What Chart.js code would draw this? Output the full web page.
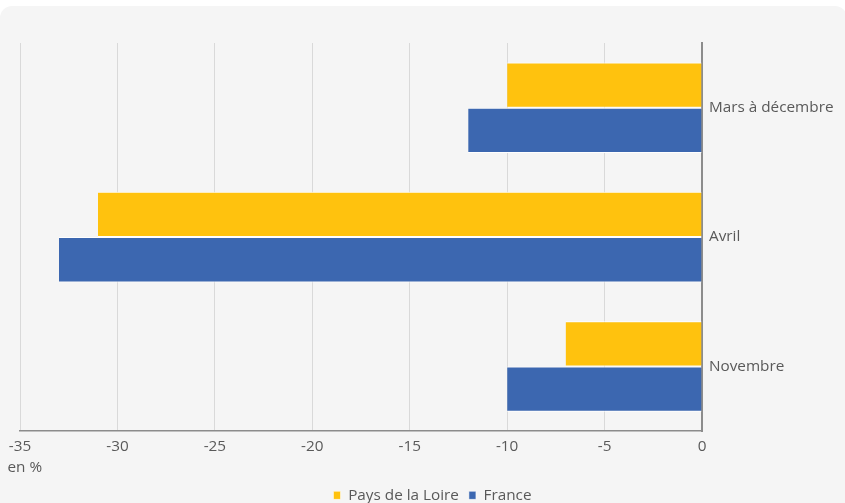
<!DOCTYPE html>
<html>
<head>
<meta charset="utf-8">
<script src="https://cdn.jsdelivr.net/npm/chart.js@4.4.1/dist/chart.umd.min.js"></script>
<style>
  html, body { margin: 0; padding: 0; background: #fff; overflow: hidden; }
  .card {
    position: absolute; left: 0; top: 6px; width: 847px; height: 520px;
    background: #f5f5f5; border-radius: 12px;
  }
  #wrap { position: absolute; left: 0; top: 0; width: 845px; height: 513px; }
</style>
</head>
<body>
<div class="card"></div>
<div id="wrap"><canvas id="chart"></canvas></div>
<script>
// Data (change in %)
const periods = ['Mars à décembre', 'Avril', 'Novembre'];
const paysDeLaLoire = [-10, -31, -7];
const france = [-12, -33, -10];
const xTicks = [-35, -30, -25, -20, -15, -10, -5, 0];

const textColor = '#595959';
const font = { family: '"Open Sans", sans-serif', size: 15.3 };

// "en %" under the first tick label
const unitLabel = {
    id: 'unitLabel',
    afterDraw(chart) {
        const x = chart.scales.x;
        const ctx = chart.ctx;
        ctx.save();
        ctx.font = '15.3px "Open Sans", sans-serif';
        ctx.fillStyle = textColor;
        ctx.textAlign = 'left';
        ctx.textBaseline = 'middle';
        ctx.fillText('en %', x.left - 12.5, 468);
        ctx.restore();
    }
};

const ctx = document.getElementById('chart').getContext('2d');
new Chart(ctx, {
    type: 'bar',
    data: {
        labels: periods,
        datasets: [{
            label: 'Pays de la Loire',
            data: paysDeLaLoire,
            backgroundColor: '#ffc20e',
            borderColor: '#ffffff',
            borderWidth: { top: 1, bottom: 1, left: 0, right: 0 },
            borderSkipped: false,
            barPercentage: 1,
            categoryPercentage: 0.7
        }, {
            label: 'France',
            data: france,
            backgroundColor: '#3c67b0',
            borderColor: '#ffffff',
            borderWidth: { top: 1, bottom: 1, left: 0, right: 0 },
            borderSkipped: false,
            barPercentage: 1,
            categoryPercentage: 0.7
        }]
    },
    options: {
        indexAxis: 'y',
        responsive: true,
        maintainAspectRatio: false,
        animation: false,
        layout: { padding: { top: 43, left: 20, right: 0, bottom: 0 } },
        plugins: {
            legend: {
                position: 'bottom',
                labels: {
                    color: textColor,
                    font: font,
                    boxWidth: 7,
                    boxHeight: 8,
                    padding: 10
                }
            },
            tooltip: { enabled: false }
        },
        scales: {
            x: {
                min: -35,
                max: 0,
                afterBuildTicks(scale) {
                    scale.ticks = xTicks.map(v => ({ value: v }));
                },
                afterFit(scale) {
                    scale.height = 46.5;
                    scale.paddingLeft = 0;
                    scale.paddingRight = 0;
                },
                grid: { color: '#d9d9d9', drawTicks: false },
                border: { display: true, color: '#8c8c8c', width: 1.5 },
                ticks: { color: textColor, font: font, padding: 6, maxRotation: 0 }
            },
            y: {
                position: 'right',
                afterFit(scale) { scale.width = 143; },
                grid: { display: false, drawTicks: false },
                border: { display: true, color: '#8c8c8c', width: 2 },
                ticks: { color: textColor, font: font, padding: 7 }
            }
        }
    },
    plugins: [unitLabel]
});
</script>
</body>
</html>
